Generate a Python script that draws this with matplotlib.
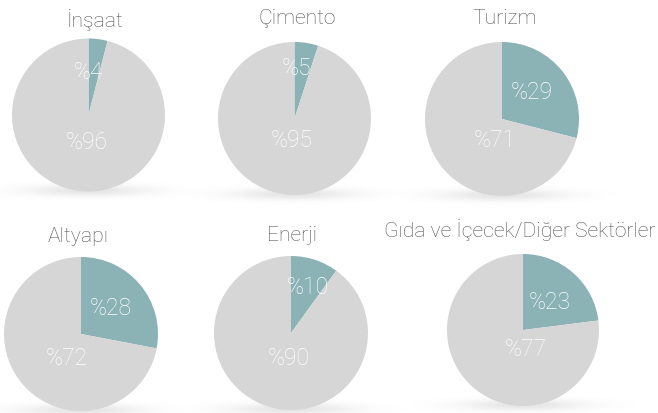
import numpy as np
import matplotlib
matplotlib.use("Agg")
import matplotlib.pyplot as plt
from matplotlib import font_manager

# ---- data ----
titles = ["İnşaat", "Çimento", "Turizm", "Altyapı", "Enerji", "Gıda ve İçecek/Diğer Sektörler"]
share = [4, 5, 29, 28, 10, 23]          # highlighted share (%)
rest = [96, 95, 71, 72, 90, 77]         # remaining share (%)

# ---- layout (pixels, from top-left) ----
W, H = 658, 414
centers = [(88.5, 116), (294.5, 119.5), (502, 120), (81, 335), (291, 334), (523, 331)]
radii = [76.5, 76.5, 77, 77, 77, 76]
title_pos = [(95, 20), (297, 19), (505, 18), (78, 237), (292, 236), (520, 230)]
small_off = [(0.0, 0.57), (0.03, 0.67), (0.39, 0.36), (0.38, 0.34), (0.22, 0.61), (0.35, 0.38)]
big_off = [(-0.02, -0.35), (-0.03, -0.27), (-0.09, -0.26), (-0.18, -0.31), (-0.03, -0.32), (0.03, -0.25)]

TEAL = "#8BB2B5"
GRAY = "#D6D6D6"
TITLE_C = "#555555"

avail = {f.name for f in font_manager.fontManager.ttflist}
fam = ["Roboto", "DejaVu Sans"] if "Roboto" in avail else ["DejaVu Sans"]
plt.rcParams["font.family"] = fam

fig = plt.figure(figsize=(W / 100, H / 100), dpi=100)
fig.patch.set_facecolor("white")

# shadow layer
bg = fig.add_axes([0, 0, 1, 1])
bg.set_xlim(0, W)
bg.set_ylim(H, 0)
bg.axis("off")
yy, xx = np.mgrid[0:H, 0:W] + 0.5
alpha = np.zeros((H, W))
for (cx, cy), r in zip(centers, radii):
    sy = cy + r - 1
    g = np.exp(-((xx - cx) ** 2) / (2 * (0.55 * r) ** 2) - ((yy - sy) ** 2) / (2 * 4.0 ** 2))
    alpha = np.maximum(alpha, 0.16 * g)
img = np.zeros((H, W, 4))
img[..., :3] = 0.35
img[..., 3] = alpha
bg.imshow(img, extent=(0, W, H, 0), interpolation="bilinear", zorder=0)

K = 1.0
for i, ((cx, cy), r) in enumerate(zip(centers, radii)):
    half = r * K
    ax = fig.add_axes([(cx - half) / W, (H - cy - half) / H, 2 * half / W, 2 * half / H])
    ax.pie([share[i], rest[i]], colors=[TEAL, GRAY], startangle=90, counterclock=False,
           radius=1.0, wedgeprops=dict(linewidth=0, antialiased=True))
    ax.set_xlim(-K, K)
    ax.set_ylim(-K, K)
    ax.set_aspect("equal")
    ax.axis("off")
    sx, sy = small_off[i]
    bx, by = big_off[i]
    ax.text(sx, sy, f"%{share[i]}", color="white", fontsize=16.5, fontweight="light",
            ha="center", va="center")
    ax.text(bx, by, f"%{rest[i]}", color="white", fontsize=16.5, fontweight="light",
            ha="center", va="center")
    tx, ty = title_pos[i]
    fig.text(tx / W, 1 - ty / H, titles[i], color=TITLE_C, fontsize=15.2, fontweight="light",
             ha="center", va="center")

fig.savefig("out.png", dpi=100, facecolor="white")
